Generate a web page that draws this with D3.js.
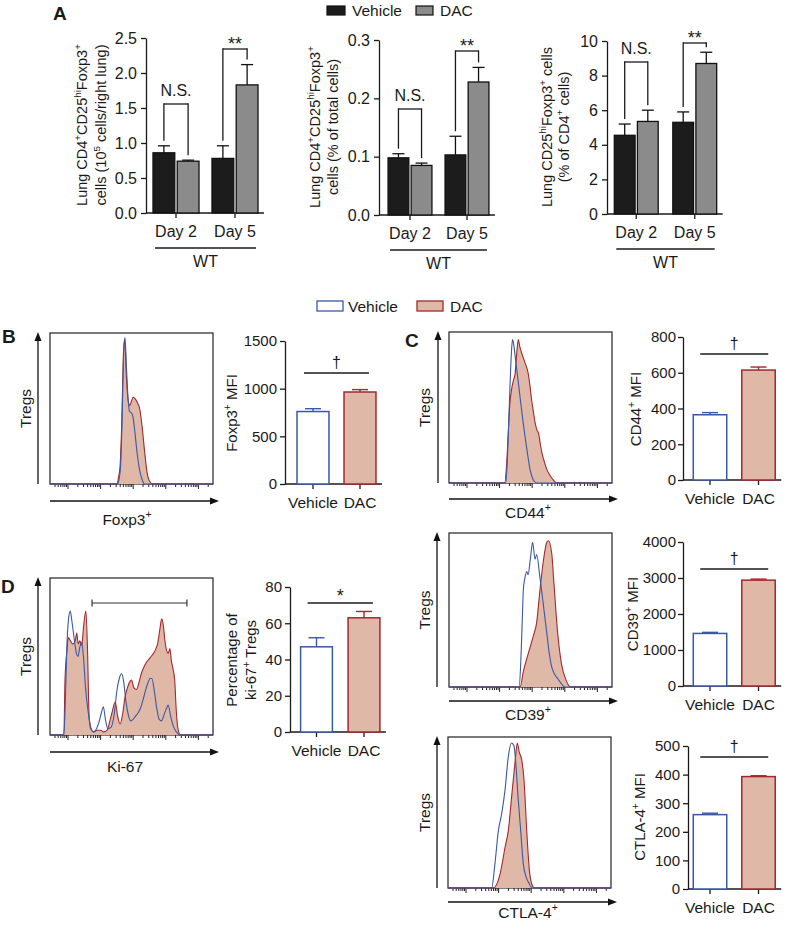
<!DOCTYPE html>
<html><head><meta charset="utf-8">
<script src="https://cdn.jsdelivr.net/npm/d3@7"></script>
<style>
body{margin:0;background:#fff}
svg{display:block}
text{font-family:"Liberation Sans",Arial,Helvetica,sans-serif;fill:#1a1a1a}
</style>
</head><body>
<svg id="c" width="785" height="925"></svg>
<script>
// ================= DATA =================
const days = ["Day 2", "Day 5"];
const groups = ["Vehicle", "DAC"];
// Panel A (mean, SEM)
const a1Vehicle = [0.86, 0.78], a1VehicleSem = [0.10, 0.18];
const a1Dac = [0.74, 1.83], a1DacSem = [0.015, 0.29];
const a1Ticks = [0, 0.5, 1.0, 1.5, 2.0, 2.5];
const a2Vehicle = [0.098, 0.103], a2VehicleSem = [0.007, 0.032];
const a2Dac = [0.085, 0.228], a2DacSem = [0.004, 0.025];
const a2Ticks = [0, 0.1, 0.2, 0.3];
const a3Vehicle = [4.55, 5.30], a3VehicleSem = [0.65, 0.60];
const a3Dac = [5.35, 8.70], a3DacSem = [0.65, 0.65];
const a3Ticks = [0, 2, 4, 6, 8, 10];
const aSigLabels = ["N.S.", "**"];
// Panels B-D bar charts (mean, SEM)
const foxp3Mfi = [760, 965], foxp3Sem = [30, 25];
const foxp3Ticks = [0, 500, 1000, 1500];
const cd44Mfi = [365, 615], cd44Sem = [12, 17];
const cd44Ticks = [0, 200, 400, 600, 800];
const cd39Mfi = [1460, 2940], cd39Sem = [30, 30];
const cd39Ticks = [0, 1000, 2000, 3000, 4000];
const ctla4Mfi = [260, 393], ctla4Sem = [5, 3];
const ctla4Ticks = [0, 100, 200, 300, 400, 500];
const ki67Pct = [47, 63], ki67Sem = [5, 3.5];
const ki67Ticks = [0, 20, 40, 60, 80];
// Histograms: [channel position (% of axis), count (% of max)]
const foxp3HistVehicle = [[0,0],[41.5,0],[42.5,4],[43.3,12],[44.3,45],[45,80],[46,97],[47,75],[48,55],[48.8,48],[50,47],[51,44],[52,35],[53.5,20],[55,9],[56.5,3],[58,0],[100,0]];
const foxp3HistDac = [[0,0],[41,0],[42,4],[43,12],[44,40],[45,85],[45.8,96],[46.8,72],[48,55],[49,52],[50,55],[51,57.5],[52.5,56],[54,53],[55,50],[56.5,38],[58,22],[59.5,8],[61,2],[63,0],[100,0]];
const cd44HistVehicle = [[0,0],[34.8,0],[35.8,15],[36.8,45],[37.8,75],[38.5,90],[39,95],[39.8,91],[41,80],[42.5,67],[44,53],[45.5,40],[47,28],[48.5,17],[49.7,9],[51,4],[52,1.5],[54,0],[100,0]];
const cd44HistDac = [[0,0],[34.2,0],[35.2,10],[36.3,32],[37.3,52],[38.4,62],[39.5,68],[40.5,72],[41.5,85],[42.5,95],[43.5,90],[44.6,86],[46.5,80],[48.5,73],[49.6,65],[50.7,55],[51.8,47],[52.8,40],[54,35],[54.9,33],[56,26],[57,20],[58.5,14],[60,9],[62,5],[64,2],[66,0],[100,0]];
const cd39HistVehicle = [[0,0],[43,0],[44,15],[45,45],[45.6,63],[46.6,71],[47.7,75],[48.5,73],[50,84],[51.3,94],[52.8,83],[53.8,86],[55.8,71],[56.8,63],[58.5,48],[60,35],[61.5,22],[63,13],[65,8],[67,5],[69,2],[71,0],[100,0]];
const cd39HistDac = [[0,0],[43.6,0],[45.6,10],[48.7,22],[51.7,33],[53.8,42],[55.8,63],[57.9,82],[60,94],[61,95],[63,87],[64.4,67],[66.5,37],[69,15],[72,4],[74.6,0],[100,0]];
const ctla4HistVehicle = [[0,0],[26.8,0],[28.8,16],[30.9,38],[32.9,49],[35,65],[37,87],[39,96],[40.5,94],[41.7,81],[43,60],[44.6,38],[46.2,16],[48,7],[49.8,3],[51.5,0],[100,0]];
const ctla4HistDac = [[0,0],[27.8,0],[31.9,9],[35,27],[37,38],[39,60],[41.1,83],[42.5,96],[43.7,90],[45.2,85],[46.6,72],[48.3,38],[49.9,12],[51.3,3],[53,0],[100,0]];
const ki67HistVehicle = [[0,0],[8.5,0],[9.5,25],[10.3,55],[11.5,75],[12.4,79],[13.5,72],[15,60],[16.2,52],[17.2,50],[18.3,56],[19.4,59],[20.5,50],[21.8,30],[23.5,14],[25,5],[26.5,2],[28,3],[30,8],[31.5,14],[32.7,18],[34,10],[35.5,4],[37.5,5],[39.5,14],[41,28],[42.5,36],[44,39],[45.2,34],[46.5,22],[48,13],[49.5,9],[51,10],[52.5,12],[54,14],[55.5,17],[57,22],[58.5,28],[60,33],[61.5,36],[62.5,36],[64,28],[65.5,17],[67,10],[68.5,9],[70,13],[71.5,17],[72.5,19],[74,12],[75.5,6],[77.5,2],[80,0],[100,0]];
const ki67HistDac = [[0,0],[8.5,0],[9.2,35],[10.5,55],[11.2,62],[12.5,60],[14,58],[15.5,60],[16.4,65],[17.3,58],[18.3,60],[19.5,57],[20.5,68],[22,79],[23,55],[24,12],[25,4],[27,2],[29,3],[31,3],[33,2],[35,3],[36.5,8],[38,14],[40,21],[41.5,12],[43,7],[44.5,13],[46,24],[47.5,30],[49,34],[50,35],[51.5,30],[53,29],[54.5,33],[56,39],[57.5,43],[59,46],[60.5,48],[62,50],[63.5,52],[65,55],[66,58],[67.5,68],[68.5,74],[69.5,70],[70.5,60],[71.5,54],[72.5,52],[73.5,55],[74.5,47],[75.5,42],[76.5,35],[77.5,15],[78.5,4],[80,0],[100,0]];

// ================= DRAWING =================
const svg = d3.select("#c");
const INK = "#1a1a1a", BLUE = "#3b58a6", RED = "#a3282e", PINK = "#e0b8a8";
const DARK = "#1c1c1c", GREY = "#8b8b8b";

function rich(t, s, fs) {
  const parts = s.split(/(\^\{[^}]*\})/).filter(p => p.length);
  let raised = false;
  parts.forEach(p => {
    const sp = t.append("tspan");
    if (p.startsWith("^{")) {
      sp.text(p.slice(2, -1)).attr("font-size", fs * 0.68);
      if (!raised) sp.attr("dy", -fs * 0.42);
      raised = true;
    } else {
      sp.text(p);
      if (raised) sp.attr("dy", fs * 0.42);
      raised = false;
    }
  });
  return t;
}
function label(x, y, s, fs, anchor = "middle", weight = null) {
  const t = svg.append("text").attr("x", x).attr("y", y).attr("font-size", fs)
    .attr("text-anchor", anchor);
  if (weight) t.attr("font-weight", weight);
  return rich(t, s, fs);
}
function vlabel(x, y, s, fs) {
  const t = svg.append("text").attr("transform", `translate(${x},${y}) rotate(-90)`)
    .attr("x", 0).attr("y", fs * 0.35).attr("font-size", fs).attr("text-anchor", "middle");
  return rich(t, s, fs);
}
function line(x1, y1, x2, y2, color = INK, w = 1.3) {
  return svg.append("line").attr("x1", x1).attr("y1", y1).attr("x2", x2).attr("y2", y2)
    .attr("stroke", color).attr("stroke-width", w);
}
function styleAxis(g, fs) {
  g.attr("font-family", null).attr("font-size", null);
  g.select(".domain").attr("stroke", INK).attr("stroke-width", 1.3);
  g.selectAll(".tick line").attr("stroke", INK).attr("stroke-width", 1.3);
  g.selectAll(".tick text").attr("font-size", fs).attr("fill", INK);
}

// ---------- Panel A grouped bar charts ----------
function chartA(o) {
  const y = d3.scaleLinear().domain([0, o.max]).range([o.y0, o.yTop]);
  const x0 = d3.scaleBand().domain(days).range(o.xr).paddingInner(o.pad).paddingOuter(o.pad / 2);
  const x1 = d3.scaleBand().domain(groups).range([0, x0.bandwidth()]).paddingInner(0.1);
  const g = svg.append("g").attr("transform", `translate(${o.axisX},0)`)
    .call(d3.axisLeft(y).tickValues(o.ticks).tickFormat(d3.format(o.fmt)).tickSize(5).tickPadding(4).tickSizeOuter(0));
  styleAxis(g, 16);
  const series = [{name: "Vehicle", m: o.v, s: o.vs, fill: DARK}, {name: "DAC", m: o.d, s: o.ds, fill: GREY}];
  const lastEnd = x0(days[days.length - 1]) + x0.bandwidth();
  line(o.axisX, o.y0, lastEnd + 6, o.y0);
  days.forEach((day, i) => {
    const cx = x0(day) + x0.bandwidth() / 2;
    line(cx, o.y0, cx, o.y0 + 5);
    label(cx, o.y0 + 24, day, 16);
    const tops = [];
    series.forEach(sr => {
      const bx = x0(day) + x1(sr.name), bw = x1.bandwidth();
      svg.append("rect").attr("x", bx).attr("y", y(sr.m[i])).attr("width", bw)
        .attr("height", o.y0 - y(sr.m[i])).attr("fill", sr.fill).attr("stroke", "#111").attr("stroke-width", 1.3);
      const c = bx + bw / 2, ye = y(sr.m[i] + sr.s[i]);
      line(c, y(sr.m[i]), c, ye, "#111");
      line(c - 6, ye, c + 6, ye, "#111");
      tops.push({c, ye});
    });
    const bt = o.brTop[i];
    line(tops[0].c, bt, tops[1].c, bt);
    line(tops[0].c, bt - 0.65, tops[0].c, tops[0].ye - 5);
    line(tops[1].c, bt - 0.65, tops[1].c, tops[1].ye - 5);
    const txt = aSigLabels[i];
    if (txt === "**") label((tops[0].c + tops[1].c) / 2, bt + 1, txt, 18);
    else label((tops[0].c + tops[1].c) / 2, bt - 8, txt, 16);
  });
  const x0s = x0(days[0]);
  line(x0s + 2, o.y0 + 35, lastEnd - 2, o.y0 + 35);
  label((x0s + lastEnd) / 2, o.y0 + 54, "WT", 16);
  o.ylab.forEach(l => vlabel(l.x, o.ylabY, l.s, 14.5));
}

label(53, 20, "A", 19, "start", "bold");
// legend A
svg.append("rect").attr("x", 327).attr("y", 6).attr("width", 18).attr("height", 9).attr("fill", DARK).attr("stroke", "#111").attr("stroke-width", 1.2);
label(352, 16, "Vehicle", 15.5, "start");
svg.append("rect").attr("x", 416).attr("y", 6).attr("width", 17).attr("height", 9).attr("fill", GREY).attr("stroke", "#111").attr("stroke-width", 1.2);
label(440, 16, "DAC", 15.5, "start");

chartA({axisX: 146, y0: 213, yTop: 38, max: 2.5, ticks: a1Ticks, fmt: ".1f", xr: [146.5, 264.5], pad: 0.22,
  v: a1Vehicle, vs: a1VehicleSem, d: a1Dac, ds: a1DacSem, brTop: [104, 49],
  ylab: [{x: 82, s: "Lung CD4^{+}CD25^{hi}Foxp3^{+}"}, {x: 101, s: "cells (10^{5} cells/right lung)"}], ylabY: 125});
chartA({axisX: 379, y0: 215, yTop: 40, max: 0.3, ticks: a2Ticks, fmt: ".1f", xr: [381.5, 495.5], pad: 0.23,
  v: a2Vehicle, vs: a2VehicleSem, d: a2Dac, ds: a2DacSem, brTop: [109, 51],
  ylab: [{x: 315, s: "Lung CD4^{+}CD25^{hi}Foxp3^{+}"}, {x: 333, s: "cells (% of total cells)"}], ylabY: 127});
chartA({axisX: 607, y0: 214, yTop: 41, max: 10, ticks: a3Ticks, fmt: "d", xr: [607, 724], pad: 0.25,
  v: a3Vehicle, vs: a3VehicleSem, d: a3Dac, ds: a3DacSem, brTop: [62, 43],
  ylab: [{x: 547, s: "Lung CD25^{hi}Foxp3^{+} cells"}, {x: 564, s: "(% of CD4^{+} cells)"}], ylabY: 127});

// ---------- Panels B-D bar charts ----------
function chartMFI(o) {
  const y = d3.scaleLinear().domain([0, o.max]).range([o.y0, o.yTop]);
  const x = d3.scaleBand().domain(groups).range(o.xr).paddingInner(o.pad).paddingOuter(o.pad / 2);
  const g = svg.append("g").attr("transform", `translate(${o.axisX},0)`)
    .call(d3.axisLeft(y).tickValues(o.ticks).tickFormat(d3.format("d")).tickSize(5).tickPadding(o.tp).tickSizeOuter(0));
  styleAxis(g, 15);
  const end = x(groups[1]) + x.bandwidth();
  line(o.axisX, o.y0, end + 6, o.y0);
  const styles = [{fill: "#fff", stroke: BLUE}, {fill: PINK, stroke: RED}];
  groups.forEach((gn, i) => {
    const bx = x(gn), bw = x.bandwidth(), c = bx + bw / 2;
    line(c, o.y0, c, o.y0 + 5);
    label(c, o.y0 + 24, gn, 15.5);
    const ye = y(o.m[i] + o.s[i]);
    line(c, y(o.m[i]), c, ye, styles[i].stroke, 1.4);
    line(c - 8, ye, c + 8, ye, styles[i].stroke, 1.4);
    svg.append("rect").attr("x", bx).attr("y", y(o.m[i])).attr("width", bw)
      .attr("height", o.y0 - y(o.m[i])).attr("fill", styles[i].fill)
      .attr("stroke", styles[i].stroke).attr("stroke-width", 1.5);
  });
  line(x(groups[0]) + 7, o.sigY, end - 7, o.sigY);
  label((x(groups[0]) + end) / 2, o.sigY + o.sigDy, o.sig, o.sigFs || 16);
  o.ylab.forEach(l => vlabel(l.x, o.ylabY, l.s, 15));
}

chartMFI({axisX: 285, y0: 484, yTop: 341, max: 1500, ticks: foxp3Ticks, xr: [289.5, 383.5], pad: 0.32, tp: 3,
  m: foxp3Mfi, s: foxp3Sem, sigY: 373, sig: "\u2020", sigDy: -5, ylab: [{x: 232, s: "Foxp3^{+} MFI"}], ylabY: 413});
chartMFI({axisX: 683, y0: 480, yTop: 337, max: 800, ticks: cd44Ticks, xr: [685.75, 782.75], pad: 0.31, tp: 2,
  m: cd44Mfi, s: cd44Sem, sigY: 354, sig: "\u2020", sigDy: -5, ylab: [{x: 636, s: "CD44^{+} MFI"}], ylabY: 409});
chartMFI({axisX: 683, y0: 686, yTop: 542, max: 4000, ticks: cd39Ticks, xr: [685.75, 782.75], pad: 0.31, tp: 2,
  m: cd39Mfi, s: cd39Sem, sigY: 569, sig: "\u2020", sigDy: -5, ylab: [{x: 633, s: "CD39^{+} MFI"}], ylabY: 614});
chartMFI({axisX: 688, y0: 889, yTop: 746, max: 500, ticks: ctla4Ticks, xr: [685.75, 782.75], pad: 0.31, tp: 3,
  m: ctla4Mfi, s: ctla4Sem, sigY: 757, sig: "\u2020", sigDy: -5, ylab: [{x: 640, s: "CTLA-4^{+} MFI"}], ylabY: 817});
chartMFI({axisX: 290, y0: 732, yTop: 587, max: 80, ticks: ki67Ticks, xr: [292.75, 387.75], pad: 0.33, tp: 3,
  m: ki67Pct, s: ki67Sem, sigY: 603, sig: "*", sigDy: -1, sigFs: 18,
  ylab: [{x: 232, s: "Percentage of"}, {x: 251, s: "ki-67^{+} Tregs"}], ylabY: 660});

// ---------- Histograms ----------
function hist(o) {
  const xs = d3.scaleLinear().domain([0, 100]).range([o.fx, o.fx + o.fw]);
  const ys = d3.scaleLinear().domain([0, 100]).range([o.fy + o.fh, o.fy]);
  const bottom = o.fy + o.fh;
  svg.append("rect").attr("x", o.fx).attr("y", o.fy).attr("width", o.fw).attr("height", o.fh)
    .attr("fill", "none").attr("stroke", "#222").attr("stroke-width", 1.2);
  // log-decade ticks below the frame
  const dw = o.fw / 5, start = o.fx + 18;
  for (let k = -1; k < 5; k++) for (let m = 1; m <= 9; m++) {
    const tx = start + k * dw + Math.log10(m) * dw;
    if (tx < o.fx + 1 || tx > o.fx + o.fw - 1) continue;
    line(tx, bottom, tx, bottom + (m === 1 ? 5 : 3), "#222", 1);
  }
  const area = d3.area().x(d => xs(d[0])).y0(ys(0)).y1(d => ys(d[1])).curve(d3.curveMonotoneX);
  const ln = d3.line().x(d => xs(d[0])).y(d => ys(d[1])).curve(d3.curveMonotoneX);
  svg.append("path").attr("d", area(o.dac)).attr("fill", PINK).attr("stroke", "none");
  svg.append("path").attr("d", ln(o.dac)).attr("fill", "none").attr("stroke", RED).attr("stroke-width", 1.1);
  svg.append("path").attr("d", ln(o.veh)).attr("fill", "none").attr("stroke", BLUE).attr("stroke-width", 1.1);
  if (o.gate) {
    const gy = o.gate.y, g1 = xs(o.gate.from), g2 = xs(o.gate.to);
    line(g1, gy, g2, gy, "#333", 1.2);
    line(g1, gy - 3.5, g1, gy + 3.5, "#333", 1.2);
    line(g2, gy - 3.5, g2, gy + 3.5, "#333", 1.2);
  }
  // arrows
  line(o.ax, bottom, o.ax, o.fy + 6, "#111", 1.3);
  svg.append("path").attr("d", `M${o.ax - 3.5},${o.fy + 8} L${o.ax},${o.fy - 1} L${o.ax + 3.5},${o.fy + 8} Z`).attr("fill", "#111");
  const xe = o.fx + o.fw + 6;
  line(o.fx, o.xay, xe - 6, o.xay, "#111", 1.3);
  svg.append("path").attr("d", `M${xe - 9},${o.xay - 3.5} L${xe},${o.xay} L${xe - 9},${o.xay + 3.5} Z`).attr("fill", "#111");
  label(o.xlx, o.xly, o.xlab, 15.5);
  vlabel(o.tx, o.fy + o.fh / 2, "Tregs", 15.5);
}

hist({fx: 50, fy: 333, fw: 163, fh: 151, veh: foxp3HistVehicle, dac: foxp3HistDac, ax: 38, xay: 501,
  xlab: "Foxp3^{+}", xlx: 127, xly: 525, tx: 26});
hist({fx: 449, fy: 332, fw: 163, fh: 151, veh: cd44HistVehicle, dac: cd44HistDac, ax: 438, xay: 499,
  xlab: "CD44^{+}", xlx: 528, xly: 518, tx: 425});
hist({fx: 449, fy: 533, fw: 163, fh: 154, veh: cd39HistVehicle, dac: cd39HistDac, ax: 437, xay: 701,
  xlab: "CD39^{+}", xlx: 528, xly: 720, tx: 425});
hist({fx: 448, fy: 737, fw: 163, fh: 151, veh: ctla4HistVehicle, dac: ctla4HistDac, ax: 437, xay: 902,
  xlab: "CTLA-4^{+}", xlx: 528, xly: 918, tx: 425});
hist({fx: 50, fy: 578, fw: 163, fh: 157, veh: ki67HistVehicle, dac: ki67HistDac, ax: 38, xay: 752,
  xlab: "Ki-67", xlx: 125, xly: 772, tx: 26, gate: {y: 603, from: 25.8, to: 84}});

// panel letters + legend B-D
label(2, 343, "B", 19, "start", "bold");
label(405, 347, "C", 19, "start", "bold");
label(1, 593, "D", 19, "start", "bold");
svg.append("rect").attr("x", 317).attr("y", 301).attr("width", 26).attr("height", 10).attr("fill", "#fff").attr("stroke", BLUE).attr("stroke-width", 1.3);
label(348, 312, "Vehicle", 15.5, "start");
svg.append("rect").attr("x", 417).attr("y", 301).attr("width", 26).attr("height", 10).attr("fill", PINK).attr("stroke", RED).attr("stroke-width", 1.3);
label(450, 312, "DAC", 15.5, "start");
</script>
</body></html>
